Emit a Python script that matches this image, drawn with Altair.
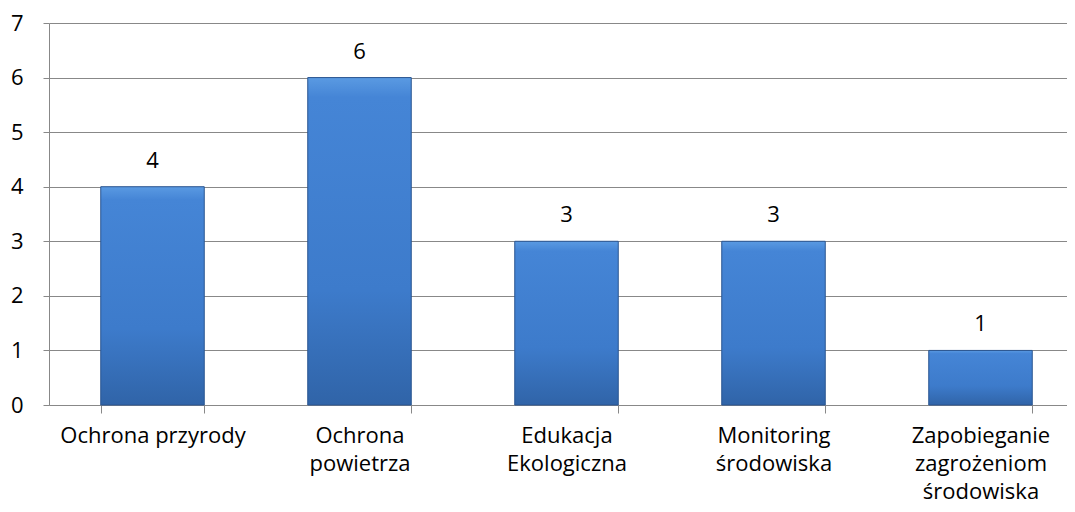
import altair as alt
import pandas as pd

categories = ["Ochrona przyrody", "Ochrona|powietrza", "Edukacja|Ekologiczna",
              "Monitoring|środowiska", "Zapobieganie|zagrożeniom|środowiska"]
values = [4, 6, 3, 3, 1]
y_ticks = [0, 1, 2, 3, 4, 5, 6, 7]

df = pd.DataFrame({"cat": categories, "val": values})

FONT = "Open Sans"
FS = 22

x_enc = alt.X("cat:N", sort=categories, title=None,
              scale=alt.Scale(paddingInner=0.5, paddingOuter=0.25, range=[0, 1035]),
              axis=alt.Axis(labelExpr="split(datum.label, '|')", labelAngle=0,
                            labelFontSize=FS, labelFont=FONT, labelColor="#000000",
                            labelLineHeight=28, labelPadding=12, labelBaseline="top",
                            tickBand="extent", tickSize=8, tickColor="#888888",
                            domainColor="#888888", labelLimit=300))

y_enc = alt.Y("val:Q", title=None,
              scale=alt.Scale(domain=[0, 7], nice=False),
              axis=alt.Axis(values=y_ticks, format="d", grid=True, gridColor="#888888",
                            domainColor="#888888", tickColor="#888888", tickSize=6,
                            labelFontSize=FS, labelFont=FONT, labelColor="#000000",
                            labelPadding=20))

grad = alt.Gradient(gradient="linear", x1=0, x2=0, y1=0, y2=1,
                    stops=[alt.GradientStop(color="#5a9ae2", offset=0),
                           alt.GradientStop(color="#4585d6", offset=0.06),
                           alt.GradientStop(color="#3d7bcb", offset=0.65),
                           alt.GradientStop(color="#3064a8", offset=1)])

bars = alt.Chart(df).mark_bar(color=grad, stroke="#2a5590", strokeWidth=1).encode(x=x_enc, y=y_enc)

labels = alt.Chart(df).mark_text(baseline="bottom", dy=-14, fontSize=FS, font=FONT,
                                 color="#000000").encode(
    x=alt.X("cat:N", sort=categories), y="val:Q", text="val:Q")

chart = (bars + labels).properties(
    width=1018, height=382,
    autosize=alt.AutoSizeParams(type="none"),
    padding={"left": 41, "top": 15, "right": 0, "bottom": 98},
).configure_view(stroke=None).configure_axisX(grid=False)

chart.save("out.html", embed_options={"renderer": "svg", "actions": False})
